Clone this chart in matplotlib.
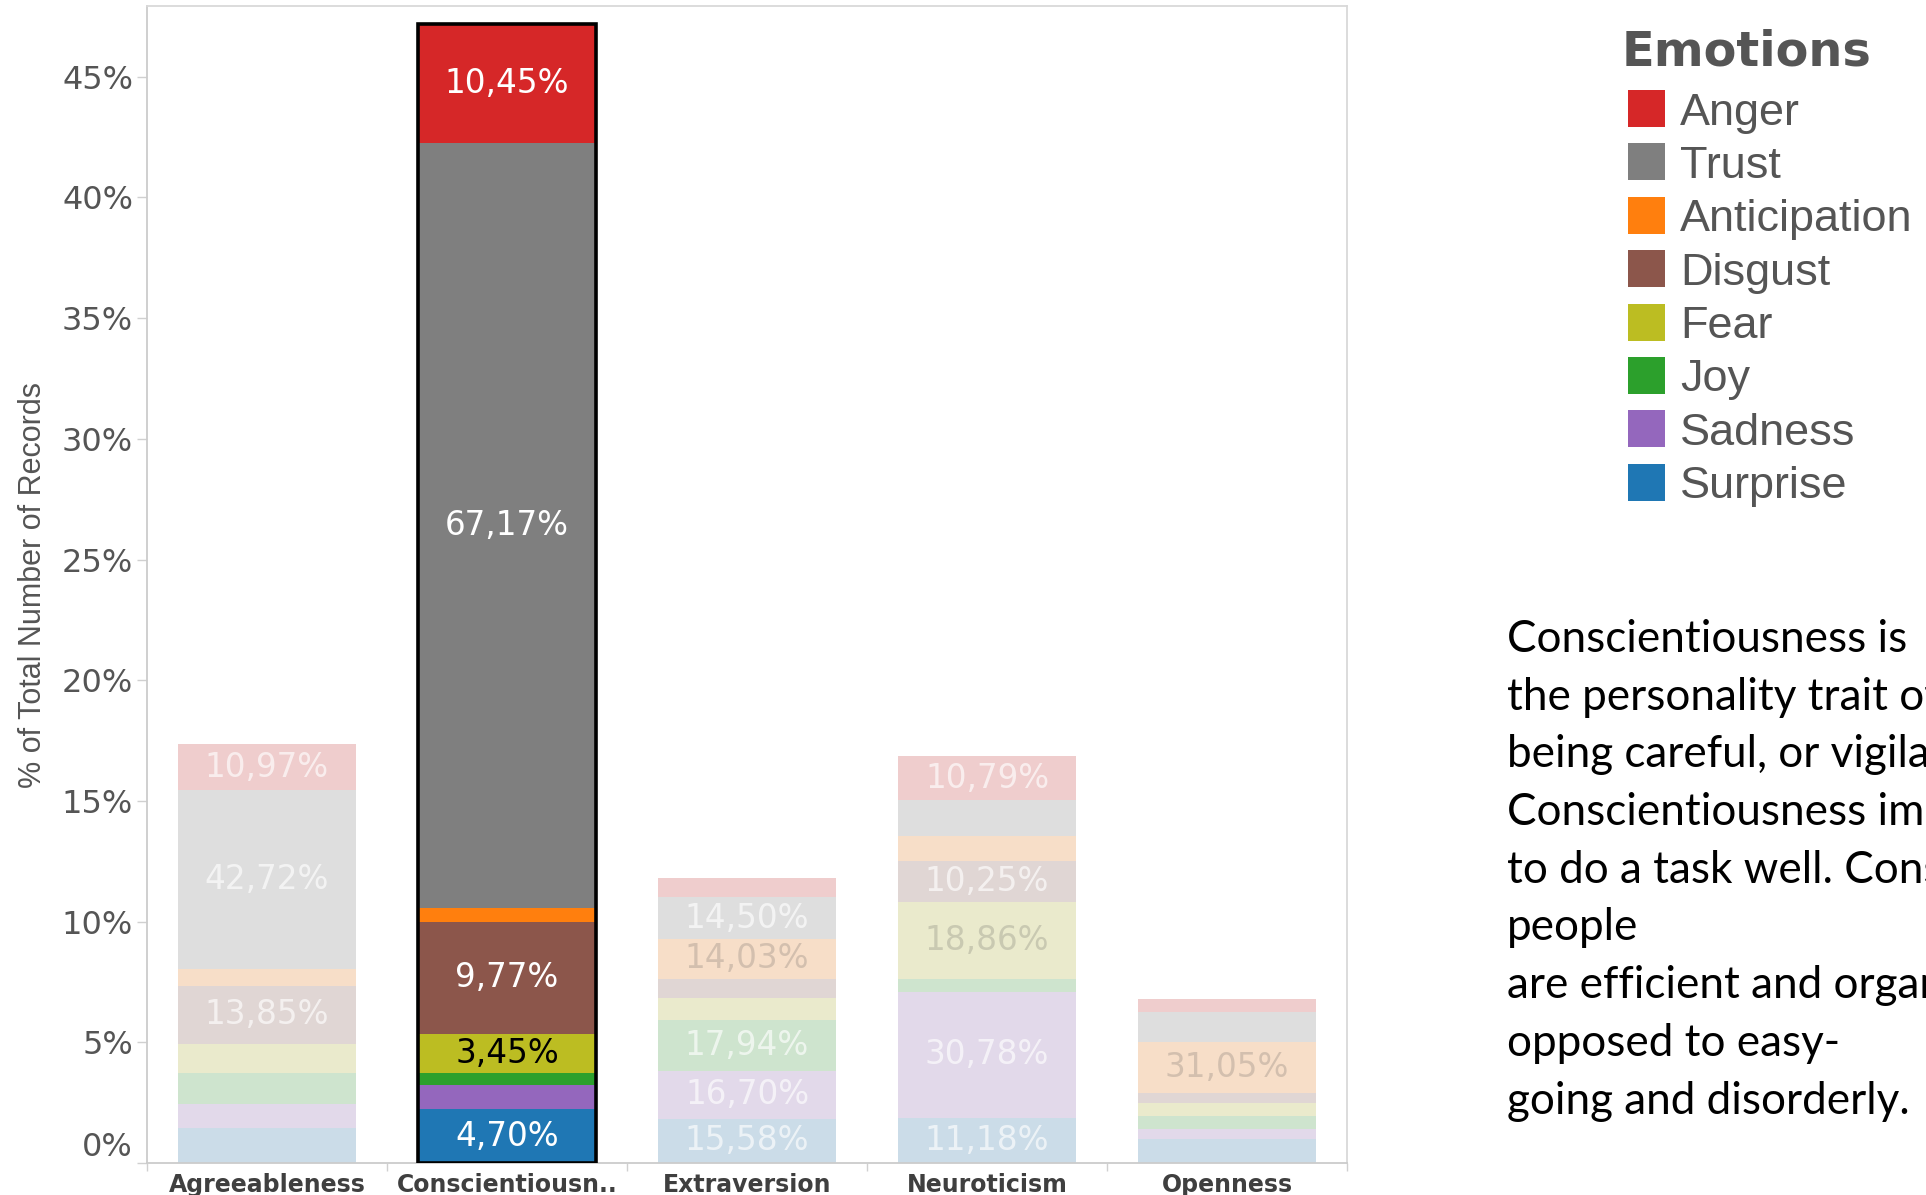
import matplotlib
matplotlib.use("Agg")
import matplotlib.pyplot as plt
from matplotlib.patches import Rectangle
from matplotlib.colors import to_rgb

# ---- data ---------------------------------------------------------------
traits = ["Agreeableness", "Conscientiousness", "Extraversion", "Neuroticism", "Openness"]
trait_labels = ["Agreeableness", "Conscientiousn..", "Extraversion", "Neuroticism", "Openness"]
# share of all records falling into each trait (%)
trait_share = [17.35, 47.20, 11.80, 16.85, 6.80]

# stacking order, bottom to top
emotions = ["Surprise", "Sadness", "Joy", "Fear", "Disgust", "Anticipation", "Trust", "Anger"]
# percentage of each emotion within a trait (bottom to top order)
agreeableness = [8.31, 5.75, 7.45, 6.95, 13.85, 4.00, 42.72, 10.97]
conscientiousness = [4.70, 2.11, 1.10, 3.45, 9.77, 1.25, 67.17, 10.45]
extraversion = [15.58, 16.70, 17.94, 7.72, 6.77, 14.03, 14.50, 6.76]
neuroticism = [11.18, 30.78, 3.28, 18.86, 10.25, 6.03, 8.83, 10.79]
openness = [14.48, 6.11, 8.12, 7.94, 6.29, 31.05, 17.89, 8.12]

within = [agreeableness, conscientiousness, extraversion, neuroticism, openness]
highlight = "Conscientiousness"

legend_order = ["Anger", "Trust", "Anticipation", "Disgust", "Fear", "Joy", "Sadness", "Surprise"]
emotion_colors = {
    "Anger": "#d62728", "Trust": "#7f7f7f", "Anticipation": "#ff7f0e",
    "Disgust": "#8c564b", "Fear": "#bcbd22", "Joy": "#2ca02c",
    "Sadness": "#9467bd", "Surprise": "#1f77b4",
}
dark_text = {"Fear", "Anticipation"}

description = [
    "Conscientiousness is",
    "the personality trait of",
    "being careful, or vigilant.",
    "Conscientiousness implies a desire",
    "to do a task well. Conscientious",
    "people",
    "are efficient and organized as",
    "opposed to easy-",
    "going and disorderly.",
]

# ---- figure -------------------------------------------------------------
W, H = 1926, 1195
fig = plt.figure(figsize=(W / 100, H / 100), dpi=100)

def fx(px):
    return px / W

def fy(py):
    return 1 - py / H

ax = fig.add_axes([fx(147), fy(1163), fx(1347) - fx(147), fy(6) - fy(1163)])


def faded(c, a=0.195, base=0.96):
    # washed-out colour for bars that are not selected
    return tuple(a * v + (1 - a) * base for v in to_rgb(c))


bar_w = 0.74
for i, (trait, share, pcts) in enumerate(zip(traits, trait_share, within)):
    on = trait == highlight
    bottom = 0.0
    for emo, p in zip(emotions, pcts):
        h = share * p / 100.0
        col = emotion_colors[emo] if on else faded(emotion_colors[emo])
        ax.bar(i, h, bottom=bottom, width=bar_w, color=col, linewidth=0, zorder=2)
        if h >= 1.55:
            txt = f"{p:.2f}%".replace(".", ",")
            if on:
                tc, ta = ("black" if emo in dark_text else "white"), 1.0
            else:
                tc, ta = ("#555555", 0.22) if emo in dark_text else ("white", 0.65)
            ax.text(i, bottom + h / 2, txt, ha="center", va="center",
                    fontsize=23.5, color=tc, alpha=ta, family="DejaVu Sans", zorder=4)
        bottom += h
    if on:
        ax.bar(i, share, width=bar_w, fill=False, edgecolor="black",
               linewidth=2.6, zorder=3)

ax.set_xlim(-0.5, 4.5)
ax.set_ylim(0, 47.93)

ax.set_yticks(range(0, 50, 5))
ax.set_yticklabels([f"{v}%" for v in range(0, 50, 5)])
ax.tick_params(axis="y", length=7, width=1, color="#d0d0d0", pad=3,
               labelsize=23, labelcolor="#555555")
for lab in ax.get_yticklabels():
    lab.set_family("DejaVu Sans")
ax.get_yticklabels()[0].set_verticalalignment("bottom")

ax.set_xticks(range(len(traits)))
ax.set_xticklabels(trait_labels)
ax.tick_params(axis="x", which="major", length=0, pad=7, labelsize=17,
               labelcolor="#3f3f3f")
for lab in ax.get_xticklabels():
    lab.set_family("DejaVu Sans")
    lab.set_fontweight("bold")
ax.set_xticks([k - 0.5 for k in range(len(traits) + 1)], minor=True)
ax.tick_params(axis="x", which="minor", length=6, width=1, color="#d0d0d0")

for s in ax.spines.values():
    s.set_color("#d9d9d9")
    s.set_linewidth(1.3)
ax.spines["left"].set_color("#cccccc")
ax.spines["bottom"].set_color("#cccccc")

ax.set_ylabel("% of Total Number of Records", fontsize=22, color="#555555",
              family="Liberation Sans", va="center")
ax.yaxis.set_label_coords((33 - 147) / 1200, 0.5)

# ---- legend -------------------------------------------------------------
fig.text(fx(1622), fy(65), "Emotions", fontsize=34.5, fontweight="bold",
         family="DejaVu Sans", color="#555555", va="baseline", ha="left")
for k, emo in enumerate(legend_order):
    cy = 108.5 + k * 53.4
    fig.add_artist(Rectangle((fx(1628), fy(cy + 18.5)), fx(37), 37 / H,
                             transform=fig.transFigure,
                             facecolor=emotion_colors[emo], edgecolor="none"))
    fig.text(fx(1680), fy(cy + 16), emo, fontsize=32.4, family="Liberation Sans",
             color="#555555", va="baseline", ha="left")

# ---- description --------------------------------------------------------
for k, line in enumerate(description):
    fig.text(fx(1507), fy(652 + k * 57.7), line, fontsize=31.7, family="Lato",
             color="black", va="baseline", ha="left")

fig.savefig("out.png", dpi=100)
